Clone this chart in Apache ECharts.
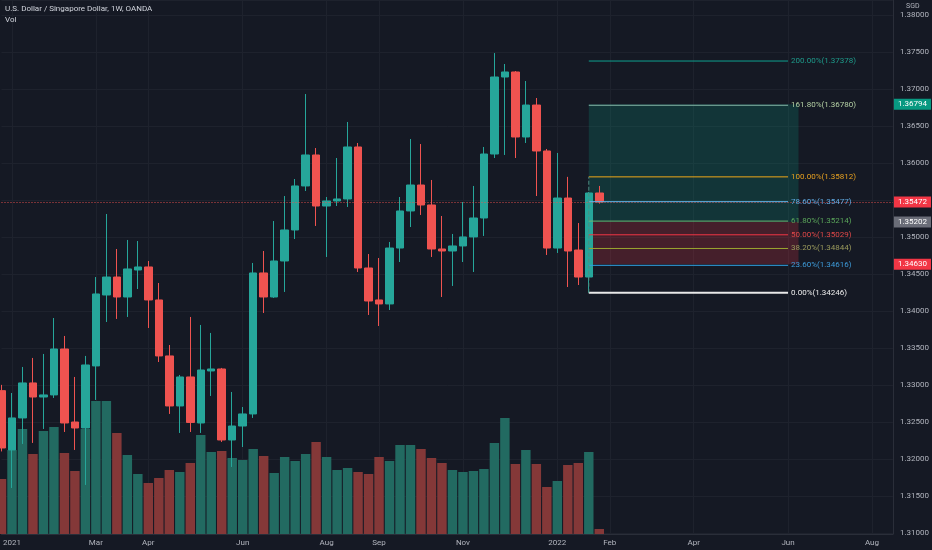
<!DOCTYPE html>
<html><head><meta charset="utf-8">
<script src="https://cdn.jsdelivr.net/npm/echarts@6/dist/echarts.min.js"></script>
<style>html,body{margin:0;padding:0;background:#151924;}#c{width:932px;height:550px;}</style>
</head><body><div id="c"></div>
<script>
const categories = [
'2020-12-28','2021-01-04','2021-01-11','2021-01-18','2021-01-25','2021-02-01','2021-02-08','2021-02-15','2021-02-22','2021-03-01',
'2021-03-08','2021-03-15','2021-03-22','2021-03-29','2021-04-05','2021-04-12','2021-04-19','2021-04-26','2021-05-03','2021-05-10',
'2021-05-17','2021-05-24','2021-05-31','2021-06-07','2021-06-14','2021-06-21','2021-06-28','2021-07-05','2021-07-12','2021-07-19',
'2021-07-26','2021-08-02','2021-08-09','2021-08-16','2021-08-23','2021-08-30','2021-09-06','2021-09-13','2021-09-20','2021-09-27',
'2021-10-04','2021-10-11','2021-10-18','2021-10-25','2021-11-01','2021-11-08','2021-11-15','2021-11-22','2021-11-29','2021-12-06',
'2021-12-13','2021-12-20','2021-12-27','2022-01-03','2022-01-10','2022-01-17','2022-01-24','2022-01-31','2022-02-07','2022-02-14',
'2022-02-21','2022-02-28','2022-03-07','2022-03-14','2022-03-21','2022-03-28','2022-04-04','2022-04-11','2022-04-18','2022-04-25',
'2022-05-02','2022-05-09','2022-05-16','2022-05-23','2022-05-30','2022-06-06','2022-06-13','2022-06-20','2022-06-27','2022-07-04',
'2022-07-11','2022-07-18','2022-07-25','2022-08-01','2022-08-08','2022-08-15'];

const tickLabels = {
'2021-01-04':'2021','2021-03-01':'Mar','2021-04-05':'Apr','2021-06-07':'Jun','2021-08-02':'Aug','2021-09-06':'Sep',
'2021-11-01':'Nov','2022-01-03':'2022','2022-02-07':'Feb','2022-04-04':'Apr','2022-06-06':'Jun','2022-08-01':'Aug'};

const opens = [1.32922,1.32120,1.32553,1.33026,1.32836,1.32864,1.33485,1.32498,1.32417,1.33256,
1.34215,1.34458,1.34188,1.34553,1.34594,1.34148,1.33391,1.32715,1.33107,1.32485,
1.33188,1.33215,1.32255,1.32444,1.32607,1.34513,1.34188,1.34675,1.35094,1.35689,
1.36108,1.35418,1.35486,1.35513,1.36216,1.34580,1.34148,1.34094,1.34850,1.35351,
1.35702,1.35432,1.34837,1.34810,1.34878,1.35000,1.35256,1.36121,1.37162,1.37230,
1.36351,1.36783,1.36162,1.34850,1.35526,1.34823,1.34458,1.35594];
const closes = [1.32147,1.32553,1.33026,1.32836,1.32864,1.33485,1.32485,1.32417,1.33269,1.34229,
1.34458,1.34188,1.34567,1.34594,1.34148,1.33391,1.32715,1.33107,1.32492,1.33201,
1.33215,1.32255,1.32444,1.32607,1.34513,1.34188,1.34675,1.35094,1.35689,1.36108,
1.35418,1.35486,1.35513,1.36216,1.34580,1.34134,1.34094,1.34850,1.35351,1.35702,
1.35432,1.34837,1.34810,1.34878,1.35000,1.35256,1.36121,1.37162,1.37230,1.36351,
1.36783,1.36162,1.34850,1.35526,1.34810,1.34458,1.35594,1.35472];
const lows = [1.32100,1.31606,1.32201,1.32215,1.32404,1.32823,1.32363,1.32120,1.31647,1.32796,
1.33850,1.33891,1.33918,1.34296,1.33769,1.33309,1.32607,1.32350,1.32363,1.32350,
1.32850,1.32228,1.31890,1.32160,1.32553,1.33972,1.34175,1.34256,1.34972,1.35621,
1.35148,1.34729,1.35418,1.35405,1.34526,1.33945,1.33796,1.34012,1.34661,1.35134,
1.35297,1.34729,1.34188,1.34337,1.34661,1.34526,1.35013,1.36067,1.36108,1.36067,
1.36270,1.35553,1.34756,1.34783,1.34323,1.34350,1.34246,1.35450];
const highs = [1.33000,1.32890,1.33242,1.33364,1.33418,1.33904,1.33661,1.33107,1.33391,1.34458,
1.35310,1.34837,1.34959,1.34945,1.34675,1.34377,1.33539,1.33134,1.33918,1.33810,
1.33702,1.33229,1.32904,1.32701,1.34648,1.34810,1.35215,1.35553,1.35783,1.36932,
1.36202,1.35540,1.36067,1.36554,1.36270,1.34769,1.34715,1.34932,1.35540,1.36324,
1.36256,1.35770,1.35283,1.35040,1.35472,1.35689,1.36216,1.37486,1.37338,1.37243,
1.37108,1.36878,1.36189,1.36135,1.35812,1.35188,1.35608,1.35689];
const volumes = [55,84,105,80,103,107,81,63,105,133,
133,101,79,60,51,56,64,62,71,99,
82,83,76,74,85,78,61,77,73,80,
92,77,64,66,62,60,77,73,89,89,
85,76,71,64,62,63,65,91,116,70,
84,70,47,53,69,71,82,5];

const fibRatios = [0, 23.6, 38.2, 50, 61.8, 78.6, 100, 161.8, 200];
const fibPrices = [1.34246, 1.34616, 1.34844, 1.35029, 1.35214, 1.35477, 1.35812, 1.36780, 1.37378];
const fibStart = '2022-01-24', fibEnd = '2022-06-06';
const posStart = '2022-01-24', posEnd = '2022-06-13';
const entryPrice = 1.35202, targetPrice = 1.36794, stopPrice = 1.34630;
const lastPrice = 1.35472;

const FONT = 'Roboto';
const UP = '#26a69a', DOWN = '#ef5350';
const fibLineColors = ['#e8e8e8','#2f9fe0','#9aa630','#f23645','#6fb36f','#5fb4e8','#f0a818','#86b8a8','#0fa090'];
const fibTextColors = ['#ececec','#3d9ad8','#9a9a5c','#e04848','#5aa55a','#5fa8e0','#e6a020','#b4d0a4','#1e9a8a'];

const candleData = opens.map((o, i) => [o, closes[i], lows[i], highs[i]]);
const volData = volumes.map((v, i) => ({
  value: v,
  itemStyle: { color: closes[i] >= opens[i] ? '#226a61' : '#843838' }
}));

const fibSeries = fibRatios.map((r, k) => ({
  type: 'line', name: 'fib ' + r, yAxisIndex: 0, silent: true, z: 8,
  symbol: 'none', animation: false,
  data: [[fibStart, fibPrices[k]], [fibEnd, fibPrices[k]]],
  lineStyle: { color: fibLineColors[k], width: k === 0 ? 2 : 1 },
  itemStyle: { color: fibLineColors[k] },
  endLabel: { show: true, distance: 3, color: fibTextColors[k], fontSize: 8, fontFamily: FONT,
    formatter: () => r.toFixed(2) + '%(' + fibPrices[k].toFixed(5) + ')' },
  emphasis: { disabled: true }
}));
fibSeries.push({
  type: 'line', name: 'fib trend', yAxisIndex: 0, silent: true, z: 8, symbol: 'none', animation: false,
  data: [[fibStart, fibPrices[0]], [fibStart, fibPrices[6]]],
  lineStyle: { color: '#4f8a80', width: 1, type: 'dashed' }, emphasis: { disabled: true }
});

function tag(value, bg, showLine) {
  return { yAxis: value,
    lineStyle: showLine ? { color: '#ef5350', type: [1, 2], width: 1, opacity: 0.9 }
                        : { color: 'rgba(0,0,0,0)', width: 1, type: 'solid' },
    label: { show: true, position: 'end', distance: 1, formatter: value.toFixed(5), color: '#ffffff', opacity: 1,
             backgroundColor: bg, padding: [2, 4, 1, 4], fontSize: 8, fontFamily: FONT } };
}
const tagLines = [
  tag(lastPrice, '#f23645', true),
  tag(targetPrice, '#089981', false),
  tag(entryPrice, '#6a6d78', false),
  tag(stopPrice, '#f23645', false)
];

const chart = echarts.init(document.getElementById('c'));
chart.setOption({
  backgroundColor: '#151924',
  animation: false,
  textStyle: { fontFamily: FONT },
  title: [
    { text: 'U.S. Dollar / Singapore Dollar, 1W, OANDA', left: 5, top: 5, padding: 0,
      textStyle: { color: '#d1d4dc', fontSize: 8, fontWeight: 'normal', fontFamily: FONT } },
    { text: 'Vol', left: 5, top: 16, padding: 0,
      textStyle: { color: '#d1d4dc', fontSize: 8, fontWeight: 'normal', fontFamily: FONT } },
    { text: 'SGD', left: 906, top: 3, padding: 0,
      textStyle: { color: '#b2b5be', fontSize: 7, fontWeight: 'normal', fontFamily: FONT } }
  ],
  grid: { left: 0, right: 39, top: 0, bottom: 16, containLabel: false },
  xAxis: {
    type: 'category', data: categories, boundaryGap: false,
    axisLine: { show: true, lineStyle: { color: '#2a2e39' } },
    axisTick: { show: false },
    axisLabel: { color: '#b2b5be', fontSize: 8, margin: 5, fontFamily: FONT,
      interval: (idx, val) => tickLabels[val] !== undefined,
      formatter: (val) => tickLabels[val] || '' },
    splitLine: { show: true, lineStyle: { color: '#1e222d' },
      interval: (idx, val) => tickLabels[val] !== undefined }
  },
  yAxis: [
    { type: 'value', position: 'right', min: 1.30984, max: 1.38203,
      minInterval: 0.005, maxInterval: 0.005, splitNumber: 14,
      axisLine: { show: true, lineStyle: { color: '#2a2e39' } },
      axisTick: { show: false },
      axisLabel: { color: '#b2b5be', fontSize: 8, margin: 7, fontFamily: FONT,
        showMinLabel: false, showMaxLabel: false,
        formatter: (v) => Math.abs(v / 0.005 - Math.round(v / 0.005)) < 1e-6 ? v.toFixed(5) : '' },
      splitLine: { show: true, lineStyle: { color: '#1e222d' } } },
    { type: 'value', min: 0, max: 534, show: false, splitLine: { show: false } }
  ],
  series: [
    { type: 'bar', name: 'Vol', xAxisIndex: 0, yAxisIndex: 1, data: volData, barWidth: '90%', z: 1 },
    { type: 'candlestick', name: 'USDSGD', yAxisIndex: 0, data: candleData, barWidth: 8, z: 3,
      itemStyle: { color: UP, color0: DOWN, borderColor: UP, borderColor0: DOWN, borderWidth: 1 },
      markArea: { silent: true, z: 1,
        data: [
          [{ coord: [posStart, targetPrice], itemStyle: { color: 'rgba(8,153,129,0.22)' } }, { coord: [posEnd, entryPrice] }],
          [{ coord: [posStart, entryPrice], itemStyle: { color: 'rgba(242,54,69,0.22)' } }, { coord: [posEnd, stopPrice] }]
        ] },
      markLine: { silent: true, symbol: 'none', animation: false, z: 6, precision: 5,
        data: tagLines }
    }
  ].concat(fibSeries)
});
</script>
</body></html>
